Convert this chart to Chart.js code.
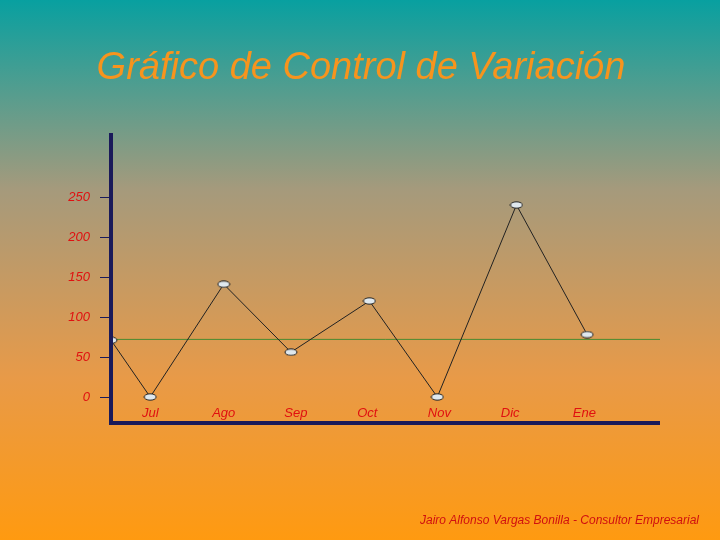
<!DOCTYPE html>
<html><head><meta charset="utf-8">
<script src="https://cdn.jsdelivr.net/npm/chart.js@4"></script>
<style>html,body{margin:0;padding:0;}canvas{display:block}</style>
</head><body>
<div style="width:720px;height:540px"><canvas id="c"></canvas></div>
<script>
const categories = ['', 'Jul', 'Ago', 'Sep', 'Oct', 'Nov', 'Dic', 'Ene'];
const xPositions = [0, 0.56, 1.61, 2.57, 3.69, 4.66, 5.79, 6.8];
const labelPositions = [0, 0.56, 1.61, 2.64, 3.66, 4.69, 5.7, 6.76];
const values = [71, 0, 141, 56, 120, 0, 240, 78];
const meanValue = 72;
const yTicks = [0, 50, 100, 150, 200, 250];

const marker = document.createElement('canvas');
marker.width = 14; marker.height = 8;
(function(){const g=marker.getContext('2d');g.fillStyle='#dfe8ee';g.strokeStyle='#222';g.lineWidth=1;
g.beginPath();g.ellipse(7,4,6,3.2,0,0,Math.PI*2);g.fill();g.stroke();})();

const bg = {id:'bg',beforeDraw(ch){const c=ch.ctx;const g=c.createLinearGradient(0,0,0,540);
g.addColorStop(0,'#08a0a0');g.addColorStop(0.35,'#a59a7c');g.addColorStop(0.7,'#e89a48');g.addColorStop(1,'#ff9a10');
c.save();c.fillStyle=g;c.fillRect(0,0,ch.width,ch.height);c.restore();},
afterDraw(ch){const c=ch.ctx;c.save();
c.fillStyle='#f7941d';c.font='italic 38px "Liberation Sans", Arial';c.textAlign='center';c.textBaseline='middle';
c.fillText('Gráfico de Control de Variación',361,68);
const xs=ch.scales.x;
c.fillStyle='#e01010';c.font='italic 13px "Liberation Sans", Arial';
for(let i=1;i<categories.length;i++){c.fillText(categories[i],xs.getPixelForValue(labelPositions[i]),413);}
c.fillStyle='#d01010';c.font='italic 12px "Liberation Sans", Arial';c.textAlign='right';
c.fillText('Jairo Alfonso Vargas Bonilla - Consultor Empresarial',699,521);
const a=ch.chartArea;c.strokeStyle='#1a1a5a';c.lineWidth=4;c.beginPath();c.moveTo(a.left,a.top);c.lineTo(a.left,a.bottom);c.lineTo(a.right,a.bottom);c.stroke();
c.restore();}};

new Chart(document.getElementById('c'),{
type:'scatter',
data:{datasets:[
{data:xPositions.map((x,i)=>({x,y:values[i]})),showLine:true,borderColor:'#222',borderWidth:1,pointStyle:marker,pointRadius:6},
{data:[{x:0,y:meanValue},{x:7.84,y:meanValue}],showLine:true,borderColor:'#4a8a30',borderWidth:1,pointRadius:0}
]},
options:{responsive:true,maintainAspectRatio:false,animation:false,
layout:{padding:{top:133,right:60,bottom:0,left:0}},
plugins:{legend:{display:false},tooltip:{enabled:false}},
scales:{
x:{type:'linear',min:0,max:7.84,afterFit:s=>{s.height=117;},
grid:{display:false},border:{display:false},ticks:{display:false}},
y:{min:-32.5,max:330,afterFit:s=>{s.width=111;},
afterBuildTicks:s=>{s.ticks=yTicks.map(v=>({value:v}));},
grid:{drawOnChartArea:false,tickLength:11,color:'#1a1a5a'},border:{display:false},
ticks:{color:'#e01010',font:{family:'"Liberation Sans", Arial',style:'italic',size:13},padding:10}}
}},
plugins:[bg]});
</script></body></html>
